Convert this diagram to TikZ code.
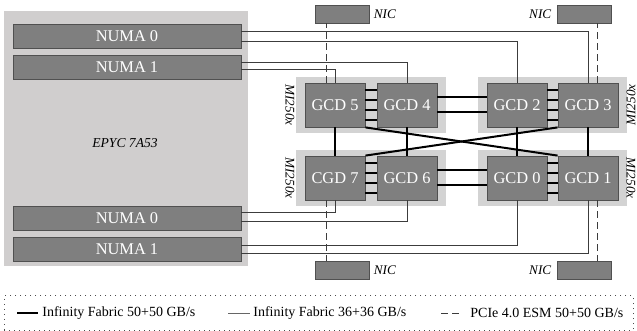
\documentclass[tikz,border=0pt]{standalone}
\usepackage{fontspec}
\setmainfont{Liberation Serif}
\usetikzlibrary{positioning, fit, backgrounds, calc}
\definecolor{cpufill}{HTML}{D0CECE}
\definecolor{modfill}{HTML}{D3D3D3}
\definecolor{blkfill}{HTML}{7F7F7F}
\definecolor{blkline}{HTML}{505050}
\definecolor{linkgray}{HTML}{3C3C3C}
\tikzset{
  cpubox/.style = {rectangle, fill=cpufill, minimum width=122pt, minimum height=127.5pt, inner sep=0pt},
  modbox/.style = {rectangle, fill=modfill, inner xsep=4.25pt, inner ysep=3pt},
  numa/.style   = {rectangle, draw=blkline, fill=blkfill, text=white, line width=0.4pt,
                   minimum width=114pt, minimum height=12pt, inner sep=0pt,
                   font=\fontsize{8.2}{9}\selectfont},
  gcd/.style    = {rectangle, draw=blkline, fill=blkfill, text=white, line width=0.4pt,
                   minimum width=30pt, minimum height=22pt, inner sep=0pt,
                   font=\fontsize{8.2}{9}\selectfont},
  nic/.style    = {rectangle, draw=blkline, fill=blkfill, line width=0.4pt,
                   minimum width=27pt, minimum height=9pt, inner sep=0pt},
  lbl/.style    = {font=\fontsize{6.6}{7}\selectfont\itshape, inner sep=0pt},
  leglbl/.style = {font=\fontsize{7}{8}\selectfont, inner sep=0pt, anchor=west},
  legbox/.style = {rectangle, draw=black!70, dotted, line width=0.5pt,
                   minimum width=314.5pt, minimum height=17pt, inner sep=0pt},
  fabric/.style = {line width=1pt, draw=black},
  rung/.style   = {line width=1pt, draw=black},
  thinlink/.style = {line width=0.5pt, draw=linkgray},
  pcie/.style   = {line width=0.5pt, draw=linkgray, dash pattern=on 3.5pt off 2pt},
}
\begin{document}
\begin{tikzpicture}[x=0.5pt, y=-0.5pt]
  \useasboundingbox (0,0) rectangle (637,331);
  \node[cpubox] (cpu) at (126,138.5) {};
  \node[lbl, font=\fontsize{6.8}{7}\selectfont\itshape] (cpuname) at (125,143) {EPYC 7A53};
  \foreach \nm/\y/\txt in {n0/36/{NUMA 0}, n1/67/{NUMA 1}, n2/218/{NUMA 0}, n3/249/{NUMA 1}}
    \node[numa] (\nm) at (127,\y) {\txt};
  \foreach \nm/\x/\y/\txt in {g5/335/105/{GCD 5}, g4/407/105/{GCD 4}, g2/517/105/{GCD 2}, g3/588/105/{GCD 3},
                              g7/335/178/{CGD 7}, g6/407/178/{GCD 6}, g0/517/178/{GCD 0}, g1/588/178/{GCD 1}}
    \node[gcd] (\nm) at (\x,\y) {\txt};
  \begin{scope}[on background layer]
    \foreach \a/\b in {g5/g4, g2/g3, g7/g6, g0/g1}
      \node[modbox, fit=(\a)(\b)] (m\a) {};
  \end{scope}
  \node[lbl, rotate=-90] (mlbl5) at (290,105) {MI250x};
  \node[lbl, rotate=-90] (mlbl7) at (290,178) {MI250x};
  \node[lbl, rotate=90] (mlbl2) at (631,105) {MI250x};
  \node[lbl, rotate=-90] (mlbl0) at (631,178) {MI250x};
  \foreach \nm/\x/\y in {nicA/342/14, nicB/584/14, nicC/342/270, nicD/584/270}
    \node[nic] (\nm) at (\x,\y) {};
  \node[lbl, right=2pt of nicA] (nicAl) {NIC};
  \node[lbl, left=2.5pt of nicB] (nicBl) {NIC};
  \node[lbl, right=2pt of nicC] (nicCl) {NIC};
  \node[lbl, left=2.5pt of nicD] (nicDl) {NIC};
  \foreach \a/\b in {g5/g4, g2/g3, g7/g6, g0/g1}
    \foreach \dy in {-15,-5,5,15}
      \draw[rung] ($(\a.east)+(0,\dy)$) -- ($(\b.west)+(0,\dy)$);
  \foreach \a/\b in {g4/g2, g6/g0}
    \foreach \dy in {-7.5,7.5}
      \draw[fabric] ($(\a.east)+(0,\dy)$) -- ($(\b.west)+(0,\dy)$);
  \foreach \a/\b in {g5/g7, g4/g6, g2/g0, g3/g1}
    \draw[fabric] (\a.south) -- (\b.north);
  \draw[fabric] (g5.south east) -- (g1.north west);
  \draw[fabric] (g3.south west) -- (g7.north east);
  \draw[thinlink] ($(n0.east)+(0,-4)$) -| (g3.north);
  \draw[thinlink] ($(n0.east)+(0,6)$) -| (g2.north);
  \draw[thinlink] ($(n1.east)+(0,-4)$) -| (g4.north);
  \draw[thinlink] ($(n1.east)+(0,3)$) -| (g5.north);
  \draw[thinlink] ($(n2.east)+(0,-5)$) -| (g7.south);
  \draw[thinlink] ($(n2.east)+(0,4)$) -| (g6.south);
  \draw[thinlink] ($(n3.east)+(0,-3)$) -| (g0.south);
  \draw[thinlink] ($(n3.east)+(0,5)$) -| (g1.south);
  \coordinate (pA) at ($(g5.north)+(-9,0)$);
  \coordinate (pB) at ($(g3.north)+(9,0)$);
  \coordinate (pC) at ($(g7.south)+(-9,0)$);
  \coordinate (pD) at ($(g1.south)+(9,0)$);
  \draw[pcie] (pA) -- (pA |- nicA.south);
  \draw[pcie] (pB) -- (pB |- nicB.south);
  \draw[pcie] (pC) -- (pC |- nicC.north);
  \draw[pcie] (pD) -- (pD |- nicD.north);
  \node[legbox] (leg) at (318.5,313) {};
  \node[leglbl] (leg1) at (42,313) {Infinity Fabric 50+50 GB/s};
  \node[leglbl] (leg2) at (253,313) {Infinity Fabric 36+36 GB/s};
  \node[leglbl] (leg3) at (470,313) {PCIe 4.0 ESM 50+50 GB/s};
  \draw[fabric] ($(leg1.west)+(-25,0)$) -- ++(21,0);
  \draw[thinlink, draw=black!60] ($(leg2.west)+(-25,0)$) -- ++(22,0);
  \draw[pcie] ($(leg3.west)+(-29,0)$) -- ++(20,0);
\end{tikzpicture}
\end{document}
